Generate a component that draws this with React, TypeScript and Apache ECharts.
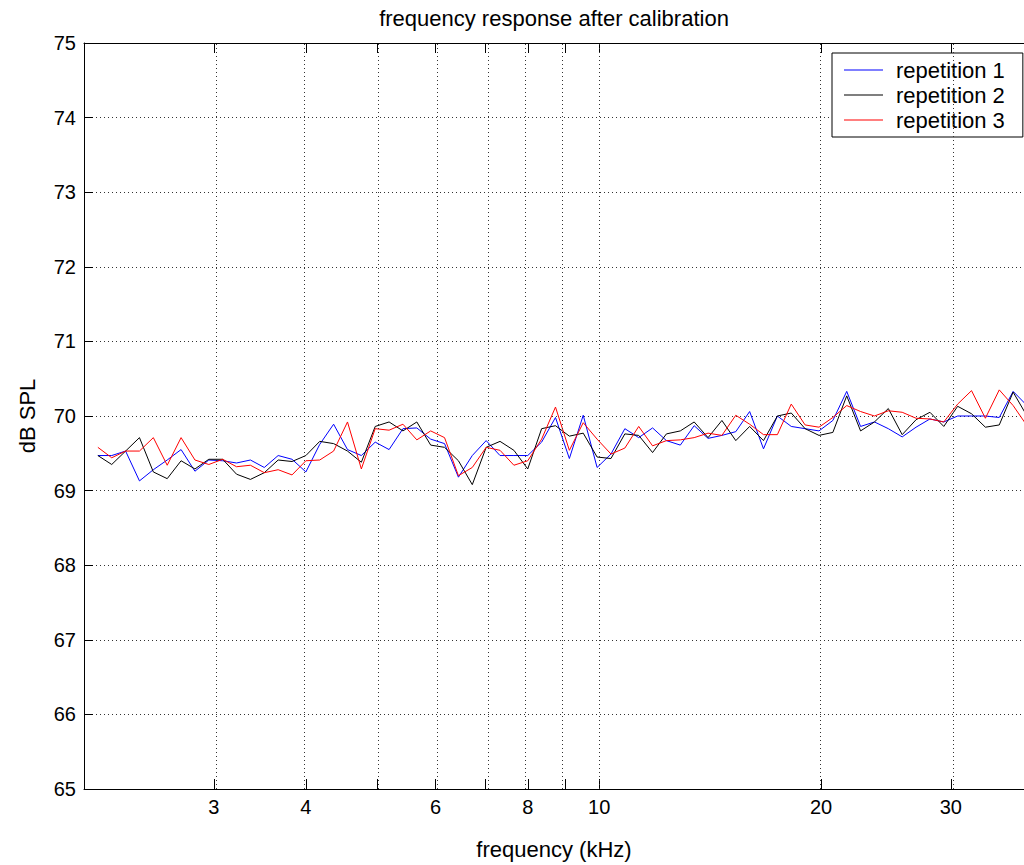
import React, { useEffect, useRef } from 'react';
import * as echarts from 'echarts';

// frequencies in kHz (1/16-octave spacing)
const freqKHz = [
  2.0885, 2.181, 2.2776, 2.3784, 2.4837, 2.5937, 2.7086, 2.8284, 2.9537, 3.0844, 3.221, 3.3636, 3.5126, 3.668, 3.8305, 4.0,
  4.1771, 4.362, 4.5552, 4.7568, 4.9674, 5.1874, 5.4172, 5.6569, 5.9074, 6.1688, 6.442, 6.7272, 7.0252, 7.336, 7.661, 8.0,
  8.3542, 8.724, 9.1104, 9.5136, 9.9348, 10.3748, 10.8344, 11.3137, 11.8148, 12.3376, 12.884, 13.4544, 14.0504, 14.672, 15.322, 16.0,
  16.708, 17.448, 18.221, 19.027, 19.87, 20.75, 21.669, 22.627, 23.63, 24.675, 25.768, 26.909, 28.101, 29.344, 30.644, 32.0,
  33.417, 34.896, 36.442, 38.054,
];

const rep1 = [
  69.47, 69.47, 69.53, 69.13, 69.28, 69.41, 69.55, 69.26, 69.41, 69.4, 69.37, 69.41, 69.31, 69.47, 69.42, 69.25,
  69.62, 69.89, 69.55, 69.47, 69.65, 69.55, 69.83, 69.84, 69.69, 69.63, 69.18, 69.47, 69.67, 69.47, 69.47, 69.47,
  69.65, 69.98, 69.43, 70.01, 69.31, 69.49, 69.83, 69.71, 69.84, 69.67, 69.61, 69.87, 69.7, 69.74, 69.79, 70.06,
  69.56, 70.0, 69.86, 69.83, 69.8, 69.94, 70.33, 69.86, 69.92, 69.83, 69.72, 69.85, 69.96, 69.92, 70.0, 70.0,
  70.0, 69.98, 70.33, 70.14,
];

const rep2 = [
  69.47, 69.35, 69.53, 69.71, 69.25, 69.16, 69.4, 69.29, 69.42, 69.42, 69.22, 69.15, 69.24, 69.41, 69.39, 69.47,
  69.66, 69.63, 69.53, 69.38, 69.86, 69.92, 69.8, 69.92, 69.61, 69.58, 69.4, 69.08, 69.58, 69.66, 69.54, 69.29,
  69.83, 69.87, 69.73, 69.77, 69.45, 69.43, 69.76, 69.74, 69.51, 69.76, 69.8, 69.92, 69.71, 69.94, 69.67, 69.86,
  69.67, 70.0, 70.04, 69.83, 69.74, 69.78, 70.27, 69.8, 69.92, 70.1, 69.75, 69.95, 70.05, 69.86, 70.13, 70.03,
  69.85, 69.88, 70.32, 70.0,
];

const rep3 = [
  69.58, 69.44, 69.53, 69.53, 69.71, 69.34, 69.71, 69.41, 69.35, 69.42, 69.32, 69.34, 69.24, 69.28, 69.21, 69.4,
  69.41, 69.53, 69.92, 69.29, 69.83, 69.81, 69.89, 69.68, 69.8, 69.71, 69.2, 69.31, 69.58, 69.54, 69.34, 69.4,
  69.69, 70.12, 69.54, 69.91, 69.69, 69.49, 69.57, 69.86, 69.6, 69.67, 69.68, 69.71, 69.77, 69.74, 70.01, 69.89,
  69.75, 69.75, 70.16, 69.88, 69.85, 69.98, 70.14, 70.06, 70.0, 70.07, 70.05, 69.97, 69.96, 69.92, 70.16, 70.34,
  69.97, 70.35, 70.14, 69.87,
];

const xLabelTicks = [3, 4, 6, 8, 10, 20, 30];
const xGridTicks = [3, 4, 5, 6, 7, 8, 9, 10, 20, 30];
const xMin = 2;
const xMax = 37.7;
const yMin = 65;
const yMax = 75;
const yStep = 1;

const titleText = 'frequency response after calibration';
const xName = 'frequency (kHz)';
const yName = 'dB SPL';
const seriesNames = ['repetition 1', 'repetition 2', 'repetition 3'];
const seriesColors = ['#0000ff', '#000000', '#ff0000'];
const seriesValues = [rep1, rep2, rep3];

const FONT = "'Liberation Sans', Arial, sans-serif";
const lx = (v: number) => Math.log10(v);

export default function App() {
  const ref = useRef<HTMLDivElement>(null);

  useEffect(() => {
    if (!ref.current) return;
    const chart = echarts.init(ref.current, undefined, { renderer: 'svg' });

    const axisCommon = {
      type: 'value' as const,
      min: lx(xMin),
      max: lx(xMax),
      axisLine: { show: true, lineStyle: { color: '#000', width: 1 } },
      axisTick: {
        show: true,
        inside: true,
        length: 10,
        customValues: xGridTicks.map(lx),
        lineStyle: { color: '#000', width: 1 },
      },
      splitLine: { show: false },
    };

    const option: any = {
      animation: false,
      backgroundColor: '#ffffff',
      textStyle: { fontFamily: FONT },
      grid: { left: 84, right: 0, top: 43, bottom: 74 },
      graphic: [
        {
          type: 'text',
          x: 554,
          y: 18,
          style: {
            text: titleText,
            textAlign: 'center',
            textVerticalAlign: 'middle',
            fontSize: 22,
            fontFamily: FONT,
            fill: '#000',
          },
        },
      ],
      legend: {
        data: seriesNames,
        orient: 'vertical',
        left: 832,
        top: 53,
        backgroundColor: '#fff',
        borderColor: '#000',
        borderWidth: 1,
        borderRadius: 0,
        padding: [6, 18, 6, 12],
        icon: 'rect',
        itemWidth: 39,
        itemHeight: 1,
        itemGap: 3,
        textStyle: { fontSize: 22, lineHeight: 22, color: '#000', fontFamily: FONT, padding: [0, 0, 0, 8] },
      },
      xAxis: [
        {
          ...axisCommon,
          position: 'bottom',
          axisLabel: {
            customValues: xLabelTicks.map(lx),
            formatter: (v: number) => String(Math.round(Math.pow(10, v))),
            fontSize: 20,
            color: '#000',
            margin: 8,
            fontFamily: FONT,
          },
          name: xName,
          nameLocation: 'middle',
          nameGap: 49,
          nameTextStyle: { fontSize: 22, color: '#000', fontFamily: FONT },
        },
        {
          ...axisCommon,
          position: 'top',
          axisLabel: { show: false },
        },
      ],
      yAxis: {
        type: 'value',
        min: yMin,
        max: yMax,
        interval: yStep,
        axisLine: { show: true, lineStyle: { color: '#000', width: 1 } },
        axisTick: { show: true, inside: true, length: 9, lineStyle: { color: '#000' } },
        axisLabel: { fontSize: 20, color: '#000', margin: 8, fontFamily: FONT },
        splitLine: { show: true, lineStyle: { color: '#333', type: [1, 3], width: 1 } },
        name: yName,
        nameLocation: 'middle',
        nameGap: 46,
        nameTextStyle: { fontSize: 22, color: '#000', fontFamily: FONT },
      },
      series: [
        {
          name: '__grid',
          type: 'line',
          data: [],
          silent: true,
          z: 1,
          markLine: {
            silent: true,
            symbol: ['none', 'none'],
            label: { show: false },
            lineStyle: { color: '#333', type: [1, 3], width: 1 },
            data: xGridTicks.map((f) => ({ xAxis: lx(f) })),
          },
        },
        ...seriesNames.map((name, i) => ({
          name,
          type: 'line',
          symbol: 'none',
          clip: true,
          z: 3,
          lineStyle: { width: 1, color: seriesColors[i] },
          itemStyle: { color: seriesColors[i] },
          data: freqKHz.map((f, k) => [lx(f), seriesValues[i][k]]),
        })),
      ],
    };

    chart.setOption(option);
    return () => chart.dispose();
  }, []);

  return <div ref={ref} style={{ position: 'fixed', left: 0, top: 0, width: 1024, height: 865 }} />;
}
